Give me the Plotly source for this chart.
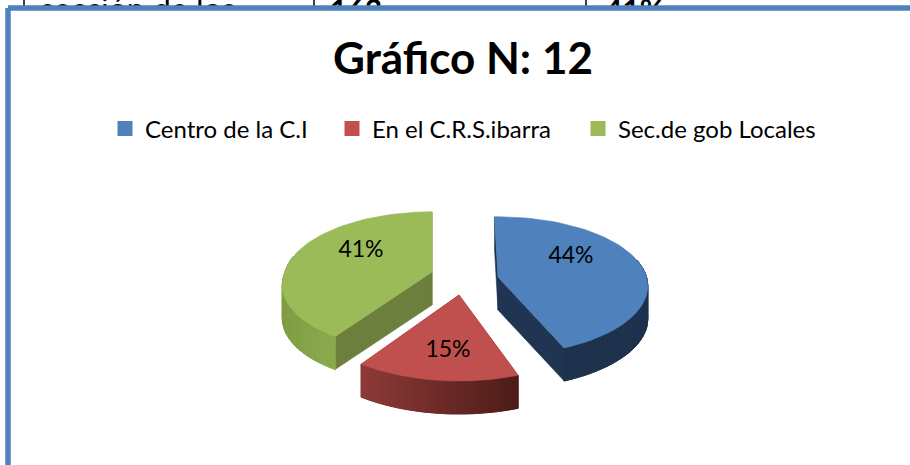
import math
import plotly.graph_objects as go

categories = ["Centro de la C.I", "En el C.R.S.ibarra", "Sec.de gob Locales"]
values = [44, 15, 41]
labels = ["44%", "15%", "41%"]
top_colors = ["#4F81BD", "#C0504D", "#9BBB59"]
title_text = "Gráfico N: 12"
table_texts = ["sección de los", "163", "41%"]

# exploded-pie projection settings (pixels, on a 910x465 axis)
apex = [(498, 277), (459, 295), (432, 272)]
label_pos = [(571, 257), (448, 351), (361, 251)]
legend_x = [105, 332, 578]
RX, RY, P, DEPTH = 150, 68, 0.13, 33
slice_rot = [-1.5, 2.0, 0.0]
slice_rx = [0.99, 1.03, 0.98]
slice_ry = [1.0, 1.1, 1.0]
slice_skew = [0.0, 0.0, -0.13]
FONT = "Lato"


def rim(i, a):
    a = a + math.radians(slice_rot[i])
    c, s = math.cos(a), math.sin(a)
    k = 1 / (1 + P * c)
    dy = -RY * slice_ry[i] * c * k
    dx = RX * slice_rx[i] * s * k + slice_skew[i] * max(dy, 0)
    return apex[i][0] + dx, apex[i][1] + dy


def mix(c1, c2, t):
    return "rgb(%d,%d,%d)" % tuple(c1[j] + (c2[j] - c1[j]) * t for j in range(3))


fig = go.Figure()


def poly(xs, ys, color, width=0.6):
    fig.add_trace(go.Scatter(
        x=xs + xs[:1], y=ys + ys[:1], mode="lines", fill="toself", fillcolor=color,
        line=dict(color=color, width=width), hoverinfo="skip", showlegend=False))


# table fragment behind the frame
fig.add_trace(go.Scatter(
    x=[40, 330, 605], y=[13, 13, 13], mode="text", text=table_texts,
    textposition="middle right",
    textfont=dict(family=FONT, size=[32, 30, 30], color="black",
                  weight=[400, 700, 700]),
    hoverinfo="skip", showlegend=False, cliponaxis=True))
for xv in [24, 314, 586]:
    fig.add_trace(go.Scatter(x=[xv, xv], y=[0, 12], mode="lines",
                             line=dict(color="black", width=1.5),
                             hoverinfo="skip", showlegend=False))

# chart frame
fig.add_trace(go.Scatter(
    x=[8, 915, 915, 8, 8], y=[8, 8, 470, 470, 8], mode="lines", fill="toself",
    fillcolor="white", line=dict(color="#4F81BD", width=5.5),
    hoverinfo="skip", showlegend=False))

# slices
cum = 0
spans = []
total = sum(values)
for v in values:
    a0 = cum / total * 2 * math.pi
    cum += v
    spans.append((a0, cum / total * 2 * math.pi))

wall_grad = [
    ((30, 50, 78), (30, 50, 78)),
    ((142, 60, 57), (78, 28, 25)),
    ((140, 170, 78), (128, 158, 68)),
]
inner_wall = ["#1F3552", "#7E312F", "#6C7F3C"]
DRAW_ORDER = [2, 0, 1]
for i in DRAW_ORDER:
    a0, a1 = spans[i]
    ax, ay = apex[i]
    n = 60
    angs = [a0 + (a1 - a0) * j / n for j in range(n + 1)]
    pts = [rim(i, a) for a in angs]
    # cut faces
    for (px, py) in (pts[0], pts[-1]):
        poly([ax, px, px, ax], [ay, py, py + DEPTH, ay + DEPTH], inner_wall[i])
    # outer wall, shaded strip by strip over the part that faces the viewer
    front = [p for p in zip(angs, pts) if math.cos(p[0]) < 0.25]
    xs_all = [p[1][0] for p in front]
    xmin, xmax = min(xs_all), max(xs_all)
    base_x = [p[1][0] for p in front]
    base_y = [p[1][1] for p in front]
    poly(base_x + base_x[::-1], base_y + [y + DEPTH for y in base_y[::-1]],
         mix(wall_grad[i][0], wall_grad[i][1], 0.5))
    for j in range(len(front) - 1):
        (x1, y1), (x2, y2) = front[j][1], front[j + 1][1]
        t = ((x1 + x2) / 2 - xmin) / (xmax - xmin)
        if i == 2:
            t = 1 - t
        poly([x1, x2, x2, x1], [y1, y2, y2 + DEPTH, y1 + DEPTH],
             mix(wall_grad[i][0], wall_grad[i][1], t), width=1)
    # top face
    poly([ax] + [p[0] for p in pts], [ay] + [p[1] for p in pts], top_colors[i])

# percentage labels
fig.add_trace(go.Scatter(
    x=[p[0] for p in label_pos], y=[p[1] for p in label_pos], mode="text", text=labels,
    textfont=dict(family=FONT, size=23, color="black"),
    hoverinfo="skip", showlegend=False))

# one legend per entry so that each can sit at its own place
for i, name in enumerate(categories):
    fig.add_trace(go.Scatter(
        x=[None], y=[None], mode="markers", name=name,
        marker=dict(symbol="square", size=15, color=top_colors[i]),
        legend="legend" if i == 0 else f"legend{i + 1}"))

W, H = 910, 465
legend_common = dict(orientation="h", xanchor="left", yanchor="middle", y=1 - 129 / H,
                     bgcolor="rgba(0,0,0,0)", itemwidth=30,
                     font=dict(family=FONT, size=24, color="black"))
fig.update_layout(
    width=W, height=H, margin=dict(l=0, r=0, t=0, b=0),
    paper_bgcolor="white", plot_bgcolor="white", showlegend=True,
    title=dict(text=title_text, x=463 / W, xanchor="center", y=1 - 59 / H, yanchor="middle",
               font=dict(family=FONT, size=44, color="black", weight=700)),
    xaxis=dict(range=[0, W], visible=False, fixedrange=True),
    yaxis=dict(range=[H, 0], visible=False, fixedrange=True),
    legend=dict(x=legend_x[0] / W, **legend_common),
    legend2=dict(x=legend_x[1] / W, **legend_common),
    legend3=dict(x=legend_x[2] / W, **legend_common),
)
fig.write_html("out.html", config={"displayModeBar": False},
               post_script="document.body.style.margin='0';document.body.style.overflow='hidden';")
